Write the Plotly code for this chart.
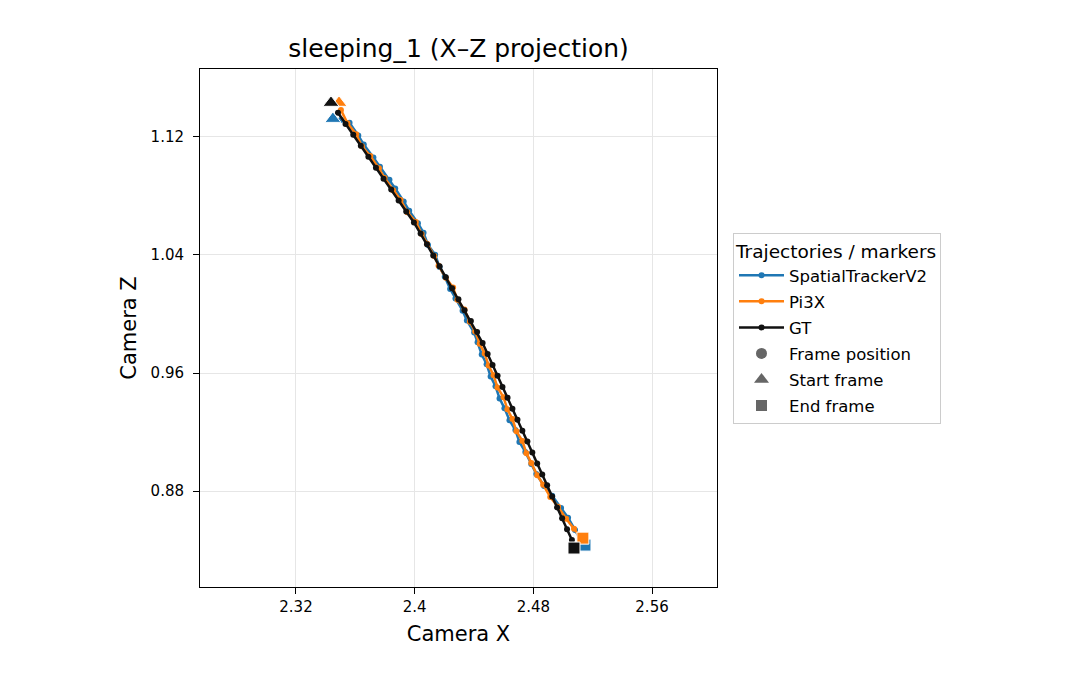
import plotly.graph_objects as go

# ---- data (camera X / Z per frame) ----
gt_x = [2.3483, 2.3534, 2.3586, 2.3637, 2.3688, 2.3739, 2.3790, 2.3842, 2.3892, 2.3943,
        2.3995, 2.4040, 2.4083, 2.4125, 2.4168, 2.4210, 2.4252, 2.4295, 2.4336, 2.4379,
        2.4421, 2.4458, 2.4492, 2.4525, 2.4559, 2.4592, 2.4626, 2.4659, 2.4693, 2.4726,
        2.4760, 2.4793, 2.4826, 2.4860, 2.4893, 2.4927, 2.4960, 2.4994, 2.5027, 2.5060]
gt_z = [1.1363, 1.1288, 1.1214, 1.1140, 1.1066, 1.0991, 1.0917, 1.0843, 1.0769, 1.0694,
        1.0620, 1.0546, 1.0472, 1.0397, 1.0323, 1.0249, 1.0175, 1.0100, 1.0026, 0.9952,
        0.9878, 0.9803, 0.9729, 0.9655, 0.9581, 0.9506, 0.9432, 0.9358, 0.9284, 0.9209,
        0.9136, 0.9061, 0.8987, 0.8912, 0.8839, 0.8764, 0.8689, 0.8616, 0.8541, 0.8468]

st_x = [2.3503, 2.3561, 2.3620, 2.3657, 2.3722, 2.3766, 2.3830, 2.3869, 2.3926, 2.3963,
        2.4022, 2.4060, 2.4090, 2.4138, 2.4168, 2.4203, 2.4239, 2.4275, 2.4323, 2.4352,
        2.4401, 2.4424, 2.4452, 2.4485, 2.4512, 2.4545, 2.4572, 2.4605, 2.4639, 2.4679,
        2.4706, 2.4746, 2.4786, 2.4820, 2.4873, 2.4927, 2.4987, 2.5034, 2.5081, 2.5128]
st_z = [1.1315, 1.1295, 1.1210, 1.1148, 1.1060, 1.0998, 1.0910, 1.0850, 1.0762, 1.0700,
        1.0615, 1.0550, 1.0468, 1.0402, 1.0318, 1.0252, 1.0170, 1.0105, 1.0022, 0.9956,
        0.9874, 0.9808, 0.9725, 0.9660, 0.9577, 0.9510, 0.9428, 0.9362, 0.9280, 0.9213,
        0.9132, 0.9065, 0.8983, 0.8916, 0.8835, 0.8768, 0.8685, 0.8620, 0.8537, 0.8447]

pi_x = [2.3503, 2.3547, 2.3606, 2.3644, 2.3701, 2.3759, 2.3797, 2.3855, 2.3905, 2.3950,
        2.4008, 2.4047, 2.4083, 2.4132, 2.4161, 2.4210, 2.4259, 2.4288, 2.4336, 2.4372,
        2.4408, 2.4438, 2.4472, 2.4498, 2.4532, 2.4558, 2.4599, 2.4625, 2.4659, 2.4686,
        2.4726, 2.4753, 2.4786, 2.4826, 2.4866, 2.4914, 2.4967, 2.5021, 2.5074, 2.5128]
pi_z = [1.1383, 1.1292, 1.1218, 1.1136, 1.1070, 1.0987, 1.0921, 1.0839, 1.0773, 1.0690,
        1.0624, 1.0542, 1.0476, 1.0393, 1.0327, 1.0245, 1.0179, 1.0096, 1.0030, 0.9948,
        0.9882, 0.9799, 0.9733, 0.9651, 0.9585, 0.9502, 0.9436, 0.9354, 0.9288, 0.9205,
        0.9140, 0.9057, 0.8991, 0.8908, 0.8843, 0.8760, 0.8693, 0.8612, 0.8545, 0.8474]

series_names = ["SpatialTrackerV2", "Pi3X", "GT"]
series_colors = ["#1f77b4", "#ff7f0e", "#111111"]
series_x = [st_x, pi_x, gt_x]
series_z = [st_z, pi_z, gt_z]

start_x = [2.3449, 2.3490, 2.3436]
start_z = [1.1322, 1.1431, 1.1431]
end_x = [2.5148, 2.5134, 2.5074]
end_z = [0.8434, 0.8481, 0.8414]

x_ticks = [2.32, 2.40, 2.48, 2.56]
x_tick_text = ["2.32", "2.4", "2.48", "2.56"]
z_ticks = [0.88, 0.96, 1.04, 1.12]
z_tick_text = ["0.88", "0.96", "1.04", "1.12"]

FONT = "DejaVu Sans"
fig = go.Figure()

for name, col, xs, zs in zip(series_names, series_colors, series_x, series_z):
    fig.add_trace(go.Scatter(x=xs, y=zs, mode="lines+markers", name=name,
                             legendgroup=name,
                             line=dict(color=col, width=2.5),
                             marker=dict(color=col, size=6)))

for name, col, sx, sz, ex, ez in zip(series_names, series_colors, start_x, start_z, end_x, end_z):
    fig.add_trace(go.Scatter(x=[sx], y=[sz], mode="markers", showlegend=False,
                             marker=dict(symbol="triangle-up", size=14, color=col,
                                         line=dict(color="white", width=1))))
    fig.add_trace(go.Scatter(x=[ex], y=[ez], mode="markers", showlegend=False,
                             marker=dict(symbol="square", size=12, color=col,
                                         line=dict(color="white", width=1))))

legend_markers = [("Frame position", "circle", 11), ("Start frame", "triangle-up", 13),
                  ("End frame", "square", 11)]
for lbl, sym, sz in legend_markers:
    fig.add_trace(go.Scatter(x=[None], y=[None], mode="markers", name=lbl,
                             legendgroup=lbl,
                             marker=dict(symbol=sym, size=sz, color="#666666")))

axis_common = dict(showline=True, linecolor="black", linewidth=1, mirror=True,
                   ticks="outside", ticklen=6, tickcolor="black",
                   showgrid=True, gridcolor="#e6e6e6", gridwidth=1, zeroline=False,
                   tickfont=dict(family=FONT, size=15, color="black"))

fig.update_layout(
    width=1080, height=690,
    margin=dict(l=200, r=363, t=69, b=103),
    paper_bgcolor="white", plot_bgcolor="white",
    font=dict(family=FONT, color="black"),
    title=dict(text="sleeping_1 (X–Z projection)", x=458.5 / 1080,
               xanchor="center", y=1 - 48 / 690, yanchor="middle",
               font=dict(family=FONT, size=25, color="black")),
    xaxis=dict(range=[2.2553, 2.6038], tickvals=x_ticks, ticktext=x_tick_text,
               title=dict(text="Camera X", font=dict(family=FONT, size=21), standoff=11),
               **axis_common),
    yaxis=dict(range=[0.815, 1.166], tickvals=z_ticks, ticktext=z_tick_text,
               ticklabelstandoff=6,
               title=dict(text="Camera Z", font=dict(family=FONT, size=21), standoff=8),
               **axis_common),
    legend=dict(x=(733 - 200) / 517, y=(587 - 233) / 518, xanchor="left", yanchor="top",
                bordercolor="#cccccc", borderwidth=1, bgcolor="white",
                tracegroupgap=1.6, itemwidth=45,
                font=dict(family=FONT, size=16.5, color="black"),
                title=dict(text="Trajectories / markers", font=dict(family=FONT, size=18.5))),
)

fig.write_html("out.html")
